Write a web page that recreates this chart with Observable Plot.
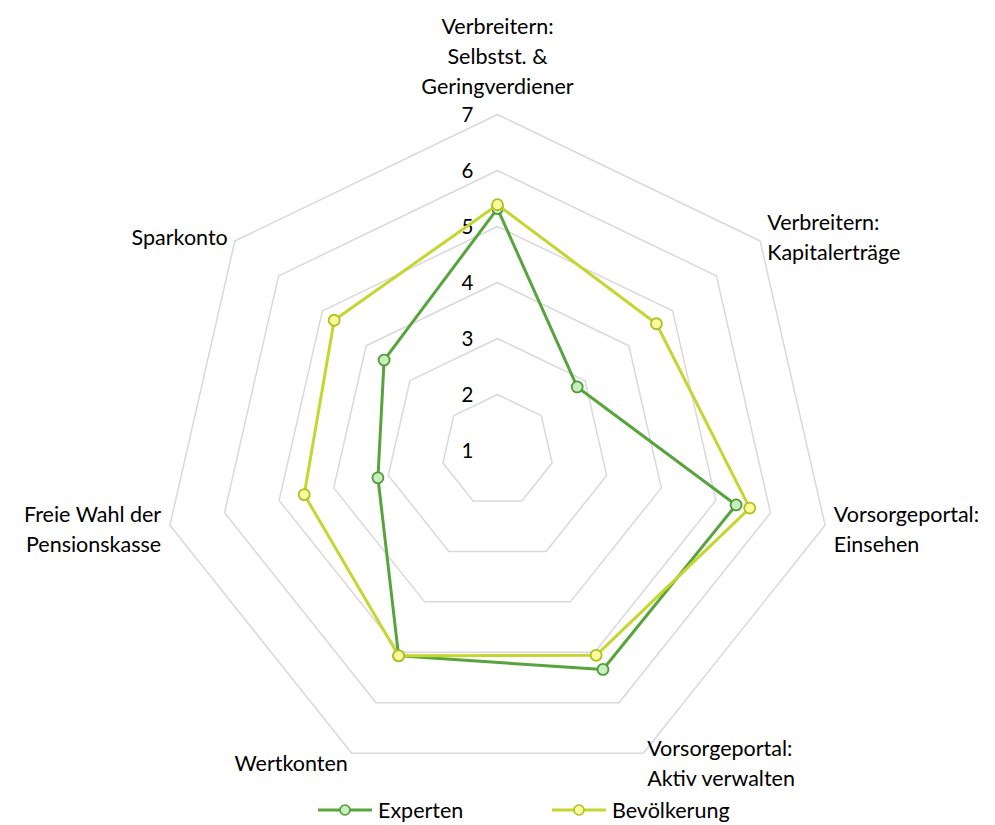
<!DOCTYPE html>
<html>
<head>
<meta charset="utf-8">
<script src="https://cdn.jsdelivr.net/npm/d3@7"></script>
<script src="https://cdn.jsdelivr.net/npm/@observablehq/plot@0.6"></script>
<style>
  html, body { margin: 0; padding: 0; background: #fff; }
  #chart svg { display: block; }
  .legend { display: flex; align-items: center; height: 30px; padding-left: 318px; font-family: Lato, "Liberation Sans", sans-serif; font-size: 21.5px; color: #000; }
  .legend .item { display: flex; align-items: center; }
  .legend .item svg { margin-right: 6px; }
</style>
</head>
<body>
<div id="chart"></div>
<div class="legend" id="legend"></div>
<script>
// ---- data ----
const categories = [
  "Verbreitern:\nSelbstst. &\nGeringverdiener",
  "Verbreitern:\nKapitalerträge",
  "Vorsorgeportal:\nEinsehen",
  "Vorsorgeportal:\nAktiv verwalten",
  "Wertkonten",
  "Freie Wahl der\nPensionskasse",
  "Sparkonto"
];
const seriesNames = ["Experten", "Bevölkerung"];
const experten     = [5.32, 2.82, 5.37, 5.34, 5.07, 3.19, 3.59];
const bevoelkerung = [5.39, 4.63, 5.62, 5.06, 5.07, 4.54, 4.73];
const tickValues = [1, 2, 3, 4, 5, 6, 7];
const axisMin = 1, axisMax = 7;

// ---- styles ----
const W = 995, H = 795;
const CX = 497, CY = 450, UNIT = 56; // pixel centre and pixels per unit
const colors = {
  "Experten":    {line: "#58a43c", fill: "#c8eec0", stroke: "#4f9a36"},
  "Bevölkerung": {line: "#c4d630", fill: "#fbfd9c", stroke: "#aebf22"}
};
const FONT = "Lato, 'Liberation Sans', sans-serif";
const LABEL_SIZE = 21.5;

// ---- geometry helpers ----
const n = categories.length;
const ang = i => i * 2 * Math.PI / n;
const polar = (r, i) => ({x: r * Math.sin(ang(i)), y: r * Math.cos(ang(i))});

// rings
const rings = [];
for (const t of tickValues) {
  if (t <= axisMin) continue;
  for (let i = 0; i <= n; i++) rings.push({ring: t, ...polar(t - axisMin, i % n)});
}

// series points
const seriesData = [experten, bevoelkerung];
const pts = [];
seriesNames.forEach((s, k) => {
  seriesData[k].forEach((v, i) => pts.push({series: s, i, value: v, ...polar(v - axisMin, i)}));
});
const closed = s => {
  const p = pts.filter(d => d.series === s);
  return [...p, p[0]];
};

// category labels
const labelR = axisMax - axisMin + 0.16;
const labels = categories.map((c, i) => {
  const p = polar(labelR, i);
  const s = Math.sin(ang(i)), co = Math.cos(ang(i));
  return {text: c, ...p,
    anchor: s > 0.1 ? "start" : s < -0.1 ? "end" : "middle",
    line: co > 0.9 ? "bottom" : "middle"};
});

const marks = [
  Plot.line(rings, {x: "x", y: "y", z: "ring", stroke: "#d9d9d9", strokeWidth: 1.5}),
  Plot.text(tickValues, {x: 0, y: d => d - axisMin, text: d => String(d), dx: -30, dy: 1, fontSize: 20.5, fill: "#000"}),
];
for (const s of seriesNames) {
  marks.push(Plot.line(closed(s), {x: "x", y: "y", stroke: colors[s].line, strokeWidth: 3, strokeLinejoin: "round"}));
  marks.push(Plot.dot(pts.filter(d => d.series === s), {x: "x", y: "y", r: 5.5, fill: colors[s].fill, stroke: colors[s].stroke, strokeWidth: 1.8}));
}
for (const a of ["start", "middle", "end"]) {
  for (const l of ["bottom", "middle"]) {
    const sub = labels.filter(d => d.anchor === a && d.line === l);
    if (!sub.length) continue;
    marks.push(Plot.text(sub, {x: "x", y: "y", text: "text", textAnchor: a, lineAnchor: l,
      lineHeight: 1.39, fontSize: LABEL_SIZE, fill: "#000", dy: l === "bottom" ? -12 : 0}));
  }
}

const chart = Plot.plot({
  width: W, height: H,
  margin: 0,
  x: {domain: [-CX / UNIT, (W - CX) / UNIT], range: [0, W], axis: null},
  y: {domain: [-(H - CY) / UNIT, CY / UNIT], range: [H, 0], axis: null},
  style: {fontFamily: FONT, fontSize: "20px", background: "#fff"},
  marks
});
document.getElementById("chart").appendChild(chart);

// legend
const legend = document.getElementById("legend");
seriesNames.forEach((s, k) => {
  const item = document.createElement("div");
  item.className = "item";
  if (k === 0) item.style.width = "234px";
  item.innerHTML = `<svg width="54" height="16"><line x1="0" x2="54" y1="8" y2="8" stroke="${colors[s].line}" stroke-width="3"/><circle cx="27" cy="8" r="5" fill="${colors[s].fill}" stroke="${colors[s].stroke}" stroke-width="1.6"/></svg><span>${s}</span>`;
  legend.appendChild(item);
});
</script>
</body>
</html>
